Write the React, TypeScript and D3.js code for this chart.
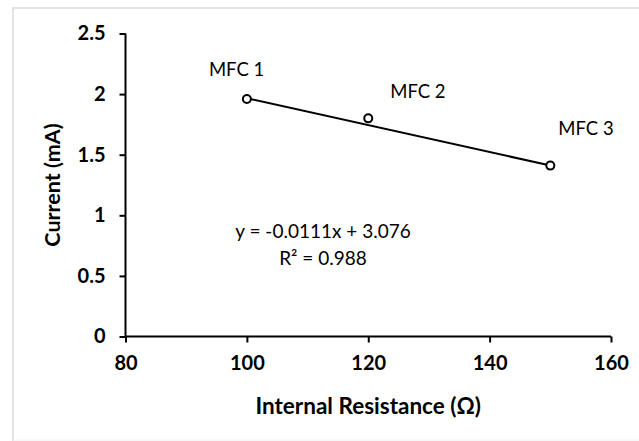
import React, { useRef, useEffect } from "react";
import * as d3 from "d3";

const resistance = [100, 120, 150];
const current = [1.96, 1.8, 1.41];
const mfcLabels = ["MFC 1", "MFC 2", "MFC 3"];
const xTicks = [80, 100, 120, 140, 160];
const yTicks = [0, 0.5, 1, 1.5, 2, 2.5];
const slope = -0.0111;
const intercept = 3.076;
const rSquared = 0.988;

// label nudges relative to each point (dx, dy in px)
const labelOffsets: [number, number][] = [
  [-38, -23],
  [22, -20],
  [8, -31],
];

const W = 639;
const H = 441;
const FONT = "Lato, 'Liberation Sans', sans-serif";

const App = () => {
  const xAxisRef = useRef<SVGGElement>(null);
  const yAxisRef = useRef<SVGGElement>(null);

  const x = d3.scaleLinear().domain([80, 160]).range([125.5, 611]);
  const y = d3.scaleLinear().domain([0, 2.5]).range([336.5, 33.5]);

  useEffect(() => {
    const xAxis = d3
      .axisBottom(x)
      .tickValues(xTicks)
      .tickSize(6)
      .tickPadding(13)
      .tickFormat((d) => String(d));
    const yAxis = d3
      .axisLeft(y)
      .tickValues(yTicks)
      .tickSize(6)
      .tickPadding(14)
      .tickFormat((d) => String(d));

    const gx = d3.select(xAxisRef.current!);
    gx.selectAll("*").remove();
    gx.call(xAxis);
    const gy = d3.select(yAxisRef.current!);
    gy.selectAll("*").remove();
    gy.call(yAxis);

    [gx, gy].forEach((g) => {
      g.select(".domain").attr("stroke", "#000").attr("stroke-width", 2);
      g.selectAll(".tick line").attr("stroke", "#000").attr("stroke-width", 2);
      g.selectAll(".tick text")
        .attr("fill", "#000")
        .attr("font-family", FONT)
        .attr("font-weight", "bold")
        .attr("font-size", 20);
    });
    // drop the outer-tick stubs from the domain paths
    gx.select(".domain").attr("d", `M${x(80)},0H${x(160)}`);
    gy.select(".domain").attr("d", `M0,${y(0)}V${y(2.5)}`);
  }, []);

  const x0 = resistance[0];
  const x1 = resistance[resistance.length - 1];

  return (
    <svg
      width={W}
      height={H}
      style={{ position: "absolute", left: 0, top: 0, background: "#fff" }}
    >
      {/* chart frame */}
      <path
        d={`M13,441V8H639`}
        fill="none"
        stroke="#e4e4e4"
        strokeWidth={2}
      />
      <line x1={13} x2={639} y1={440} y2={440} stroke="#f0f0f0" strokeWidth={1} />

      <g ref={xAxisRef} transform={`translate(0,${y(0)})`} />
      <g ref={yAxisRef} transform={`translate(${x(80)},0)`} />

      {/* linear trendline */}
      <line
        x1={x(x0)}
        y1={y(slope * x0 + intercept)}
        x2={x(x1)}
        y2={y(slope * x1 + intercept)}
        stroke="#000"
        strokeWidth={2}
      />

      {resistance.map((r, i) => (
        <circle
          key={i}
          cx={x(r)}
          cy={y(current[i])}
          r={4}
          fill="#fff"
          stroke="#000"
          strokeWidth={2}
        />
      ))}

      {resistance.map((r, i) => (
        <text
          key={i}
          x={x(r) + labelOffsets[i][0]}
          y={y(current[i]) + labelOffsets[i][1]}
          fontFamily={FONT}
          fontSize={18.5}
          fill="#000"
        >
          {mfcLabels[i]}
        </text>
      ))}

      <text
        x={323}
        y={238}
        textAnchor="middle"
        fontFamily={FONT}
        fontSize={19}
        fill="#000"
      >
        {`y = ${slope}x + ${intercept}`}
      </text>
      <text
        x={323}
        y={265}
        textAnchor="middle"
        fontFamily={FONT}
        fontSize={19}
        fill="#000"
      >
        {`R² = ${rSquared}`}
      </text>

      <text
        x={(x(80) + x(160)) / 2}
        y={414}
        textAnchor="middle"
        fontFamily={FONT}
        fontWeight="bold"
        fontSize={22.5}
        fill="#000"
      >
        Internal Resistance (Ω)
      </text>
      <text
        transform={`translate(60,${(y(0) + y(2.5)) / 2}) rotate(-90)`}
        textAnchor="middle"
        fontFamily={FONT}
        fontWeight="bold"
        fontSize={21.5}
        fill="#000"
      >
        Current (mA)
      </text>
    </svg>
  );
};

export default App;
